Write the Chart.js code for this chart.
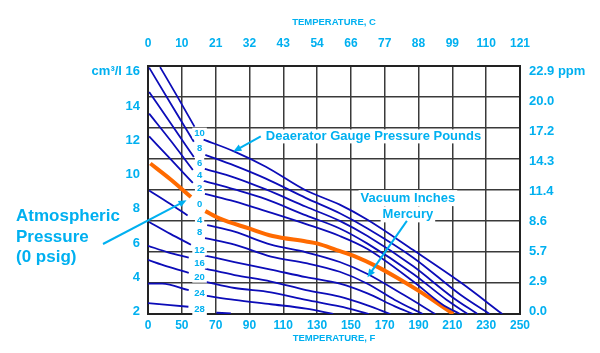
<!DOCTYPE html>
<html>
<head>
<meta charset="utf-8">
<script src="https://cdn.jsdelivr.net/npm/chart.js@4.4.1/dist/chart.umd.min.js"></script>
<style>
  body { margin: 0; background: #fff; }
</style>
</head>
<body>
<canvas id="chart" width="600" height="353"></canvas>
<script>
// axes
var tempF = [0, 50, 70, 90, 110, 130, 150, 170, 190, 210, 230, 250];
var tempC = ['0', '10', '21', '32', '43', '54', '66', '77', '88', '99', '110', '121'];
var ppmLabels = ['0.0', '2.9', '5.7', '8.6', '11.4', '14.3', '17.2', '20.0', '22.9 ppm'];
var cm3Labels = [2, 4, 6, 8, 10, 12, 14, 16];
var ppmMax = 22.9;

// curves as [temp F, ppm]; null is the gap where the curve label sits
// deaerator gauge pressure, psig
var psig10 = [[17.9, 22.8], [44.1, 20.0], [57.5, 17.3], null, [62.9, 16.1], [81.2, 15.0], [99.7, 13.6], [123.5, 11.4], [143.4, 10.1], [159.8, 8.7], [186.9, 5.9], [215, 2.9], [239.5, 0]];
var psig8 = [[1.7, 22.75], [34.8, 19.3], [57.1, 15.9], null, [63.9, 14.7], [81.2, 13.7], [99.7, 12.5], [123.5, 10.7], [143.4, 9.3], [159.8, 7.9], [186.9, 5.2], [215, 1.75], [232, 0]];
var psig6 = [[1.7, 20.5], [34.8, 17.5], [57.1, 14.5], null, [63.6, 13.4], [81.2, 12.6], [99.7, 11.5], [123.5, 9.9], [143.4, 8.6], [159.8, 7.2], [186.9, 4.4], [209.6, 1.6], [224.8, 0]];
var psig4 = [[1.7, 18.5], [34.8, 15.9], [56.5, 13.3], null, [62.9, 12.3], [81.2, 11.5], [99.7, 10.6], [123.5, 9.1], [143.4, 7.9], [159.8, 6.5], [186.9, 3.7], [206.7, 1.3], [219.1, 0]];
var psig2 = [[1.7, 16.4], [34.8, 14.2], [56.5, 12.1], null, [63.7, 11.1], [81.2, 10.4], [99.7, 9.5], [123.5, 8.3], [143.4, 7.2], [159.8, 6.0], [186.9, 3.0], [203.9, 0.9], [214.5, 0]];
// atmospheric, 0 psig
var psig0 = [[3.5, 13.9], [34, 12.4], [55.4, 10.8], null, [63.9, 9.5], [72.6, 8.8], [89.7, 7.9], [103.7, 7.2], [123.5, 6.7], [130.4, 6.5], [141.6, 5.9], [152.7, 5.3], [165.2, 4.4], [177.8, 3.3], [192.5, 1.9], [203.9, 0.7], [210.5, 0]];
// vacuum, inches of mercury
var vac4 = [[1.7, 11.4], [29.6, 10.3], [53.4, 9.1], null, [65, 8.2], [81.2, 7.6], [102.7, 6.4], [123.5, 5.7], [143.4, 4.8], [159.8, 3.7], [181.4, 1.75], [199.9, 0]];
var vac8 = [null, [63.7, 7.0], [81.2, 6.4], [102.7, 5.3], [123.5, 4.7], [143.4, 3.9], [159.8, 2.8], [176, 1.3], [192.5, 0]];
var vac12 = [[1.7, 8.5], [33.1, 7.4], [55.4, 6.4], null, [63.7, 5.4], [81.2, 4.8], [102.7, 4.1], [123.5, 3.4], [143.4, 2.8], [159.8, 1.9], [176, 0.7], [186.9, 0]];
var vac16 = [[0, 6.3], [29.6, 5.7], [54.1, 5.2], null, [63.7, 4.2], [81.2, 3.6], [102.7, 3.0], [123.5, 2.2], [143.4, 1.6], [159.8, 0.8], [173.3, 0]];
var vac20 = [[0, 5.0], [28, 4.4], [54.1, 3.8], null, [63.7, 3.0], [81.2, 2.4], [102.7, 2.0], [123.5, 1.3], [143.4, 0.7], [160.7, 0]];
var vac24 = [[0, 2.8], [20.9, 2.8], [54.1, 2.2], null, [63.7, 1.7], [81.2, 1.3], [102.7, 0.9], [123.5, 0.5], [139.5, 0]];
var vac28 = [[0, 1.0], [53.9, 0.67], null, [70.4, 0.12], [79, 0.06]];

var sky = '#00b0f0';
var blue = '#0c0cb8';
var orange = '#ff6a00';
var gridColor = '#3a3a3a';

var curves = [
  { label: '10', pts: psig10, color: blue, width: 1.8 },
  { label: '8', pts: psig8, color: blue, width: 1.8 },
  { label: '6', pts: psig6, color: blue, width: 1.8 },
  { label: '4', pts: psig4, color: blue, width: 1.8 },
  { label: '2', pts: psig2, color: blue, width: 1.8 },
  { label: '4', pts: vac4, color: blue, width: 1.8 },
  { label: '8', pts: vac8, color: blue, width: 1.8 },
  { label: '12', pts: vac12, color: blue, width: 1.8 },
  { label: '16', pts: vac16, color: blue, width: 1.8 },
  { label: '20', pts: vac20, color: blue, width: 1.8 },
  { label: '24', pts: vac24, color: blue, width: 1.8 },
  { label: '28', pts: vac28, color: blue, width: 1.8 },
  { label: '0', pts: psig0, color: orange, width: 4 }
];

// the temperature axis has evenly spaced labels, not an even F scale
function tempToFrac(v) {
  var n = tempF.length - 1;
  var i = 0;
  while (i < n - 1 && v > tempF[i + 1]) i++;
  return (i + (v - tempF[i]) / (tempF[i + 1] - tempF[i])) / n;
}
function fracToTemp(f) {
  var n = tempF.length - 1;
  var pos = Math.max(0, Math.min(n - 0.0001, f * n));
  var i = Math.floor(pos);
  return tempF[i] + (pos - i) * (tempF[i + 1] - tempF[i]);
}
class TempScale extends Chart.LinearScale {
  getPixelForValue(value) {
    if (value === null || isNaN(value)) return NaN;
    return this.getPixelForDecimal(tempToFrac(value));
  }
  getValueForPixel(pixel) {
    return fracToTemp(this.getDecimalForPixel(pixel));
  }
}
TempScale.id = 'temp';
TempScale.defaults = Chart.LinearScale.defaults;
Chart.register(TempScale);

function toPoints(pts) {
  return pts.map(function (p) {
    return p ? { x: p[0], y: p[1] } : { x: 60, y: null };
  });
}

function setTempTicks(scale) {
  scale.ticks = tempF.map(function (v) { return { value: v }; });
}

function drawArrow(ctx, x1, y1, x2, y2) {
  var a = Math.atan2(y2 - y1, x2 - x1);
  var h = 8, w = 3.5;
  ctx.beginPath();
  ctx.moveTo(x1, y1);
  ctx.lineTo(x2 - Math.cos(a) * h * 0.7, y2 - Math.sin(a) * h * 0.7);
  ctx.stroke();
  ctx.beginPath();
  ctx.moveTo(x2, y2);
  ctx.lineTo(x2 - h * Math.cos(a) + w * Math.sin(a), y2 - h * Math.sin(a) - w * Math.cos(a));
  ctx.lineTo(x2 - h * Math.cos(a) - w * Math.sin(a), y2 - h * Math.sin(a) + w * Math.cos(a));
  ctx.closePath();
  ctx.fill();
}

function boxText(ctx, txt, x, y, align, half) {
  var w = ctx.measureText(txt).width;
  var left = align === 'left' ? x : x - w / 2;
  ctx.fillStyle = '#fff';
  ctx.fillRect(left - 2, y - half, w + 4, half * 2);
  ctx.fillStyle = sky;
  ctx.textAlign = align;
  ctx.fillText(txt, x, y);
}

var notes = {
  id: 'notes',
  afterDatasetsDraw: function (chart) {
    var ctx = chart.ctx;
    var xs = chart.scales.x, ys = chart.scales.y;
    var font = "'Liberation Sans', Arial, sans-serif";
    ctx.save();
    ctx.textBaseline = 'middle';

    // curve labels in the gap column
    ctx.font = 'bold 9.5px ' + font;
    var colX = xs.getPixelForValue(60.5);
    curves.forEach(function (c) {
      var g = c.pts.indexOf(null);
      var before = g > 0 ? c.pts[g - 1] : null;
      var after = c.pts[g + 1];
      var v = before ? (before[1] + after[1]) / 2 : after[1] + 0.5;
      boxText(ctx, c.label, colX, ys.getPixelForValue(v), 'center', 5.5);
    });

    ctx.strokeStyle = sky;
    ctx.fillStyle = sky;
    ctx.lineWidth = 2;

    // gauge pressure note
    ctx.font = 'bold 13px ' + font;
    boxText(ctx, 'Deaerator Gauge Pressure Pounds', xs.getPixelForValue(99.7), ys.getPixelForValue(16.4), 'left', 7);
    ctx.fillStyle = sky;
    drawArrow(ctx, xs.getPixelForValue(96.7), ys.getPixelForValue(16.4), xs.getPixelForValue(80.5), ys.getPixelForValue(15.0));

    // vacuum note
    var vx = xs.getPixelForValue(183.7);
    boxText(ctx, 'Vacuum Inches', vx, ys.getPixelForValue(10.7), 'center', 8);
    boxText(ctx, 'Mercury', vx, ys.getPixelForValue(9.2), 'center', 8);
    ctx.fillStyle = sky;
    drawArrow(ctx, xs.getPixelForValue(183.1), ys.getPixelForValue(8.6), xs.getPixelForValue(159.8), ys.getPixelForValue(3.4));

    // atmospheric note, left of the plot
    ctx.font = 'bold 17px ' + font;
    ctx.textAlign = 'left';
    ctx.fillText('Atmospheric', 16, 216);
    ctx.fillText('Pressure', 16, 237);
    ctx.fillText('(0 psig)', 16, 257);
    drawArrow(ctx, 103, 244, xs.getPixelForValue(52.8), ys.getPixelForValue(10.5));

    ctx.restore();
  }
};

Chart.defaults.font.family = "'Liberation Sans', Arial, sans-serif";
Chart.defaults.color = sky;

var ctx = document.getElementById('chart');
var chart = new Chart(ctx, {
  type: 'line',
  data: {
    datasets: curves.map(function (c) {
      return {
        label: c.label,
        data: toPoints(c.pts),
        borderColor: c.color,
        borderWidth: c.width,
        pointRadius: 0,
        spanGaps: false,
        cubicInterpolationMode: 'monotone',
        xAxisID: 'x',
        yAxisID: 'y'
      };
    })
  },
  options: {
    responsive: false,
    animation: false,
    devicePixelRatio: 1,
    events: [],
    layout: { padding: 0 },
    plugins: { legend: { display: false }, tooltip: { enabled: false } },
    scales: {
      x: {
        type: 'temp', position: 'bottom', min: 0, max: 250,
        afterBuildTicks: setTempTicks,
        afterFit: function (s) { s.height = 39; },
        grid: { color: gridColor, lineWidth: 1.5, drawTicks: false },
        border: { color: '#222', width: 2 },
        ticks: {
          autoSkip: false, maxRotation: 0, padding: 4,
          font: { size: 12, weight: 'bold' },
          callback: function (v, i) { return tempF[i]; }
        },
        title: { display: true, text: 'TEMPERATURE, F', font: { size: 9.5, weight: 'bold' }, padding: { top: 0, bottom: 9 } }
      },
      x2: {
        type: 'temp', position: 'top', min: 0, max: 250,
        afterBuildTicks: setTempTicks,
        afterFit: function (s) { s.height = 66; },
        grid: { display: false, drawTicks: false },
        border: { color: '#222', width: 2 },
        ticks: {
          autoSkip: false, maxRotation: 0, padding: 15,
          font: { size: 12, weight: 'bold' },
          callback: function (v, i) { return tempC[i]; }
        },
        title: { display: true, text: 'TEMPERATURE, C', font: { size: 9.5, weight: 'bold' }, padding: { top: 17, bottom: 0 } }
      },
      y: {
        type: 'linear', position: 'right', min: 0, max: ppmMax,
        afterBuildTicks: function (s) {
          s.ticks = ppmLabels.map(function (l, i) { return { value: i * ppmMax / (ppmLabels.length - 1) }; });
        },
        afterFit: function (s) { s.width = 0; },
        grid: { color: gridColor, lineWidth: 1.5, drawTicks: false },
        border: { display: false },
        ticks: { display: false }
      },
      yl: {
        type: 'linear', position: 'left', min: 1.866, max: 16.33,
        afterBuildTicks: function (s) {
          s.ticks = cm3Labels.map(function (v) { return { value: v }; });
        },
        afterFit: function (s) { s.width = 148; },
        grid: { display: false, drawTicks: false },
        border: { color: '#222', width: 2 },
        ticks: {
          padding: 8, font: { size: 13, weight: 'bold' },
          callback: function (v) { return v === 16 ? 'cm\u00b3/l 16' : v; }
        }
      },
      y2: {
        type: 'linear', position: 'right', min: -0.22, max: 23.44,
        afterBuildTicks: function (s) {
          s.ticks = ppmLabels.map(function (l, i) { return { value: i * ppmMax / (ppmLabels.length - 1) }; });
        },
        afterFit: function (s) { s.width = 80; },
        grid: { display: false, drawTicks: false },
        border: { color: '#222', width: 2 },
        ticks: {
          padding: 9, font: { size: 13, weight: 'bold' },
          callback: function (v, i) { return ppmLabels[i]; }
        }
      }
    }
  },
  plugins: [notes]
});
</script>
</body>
</html>
